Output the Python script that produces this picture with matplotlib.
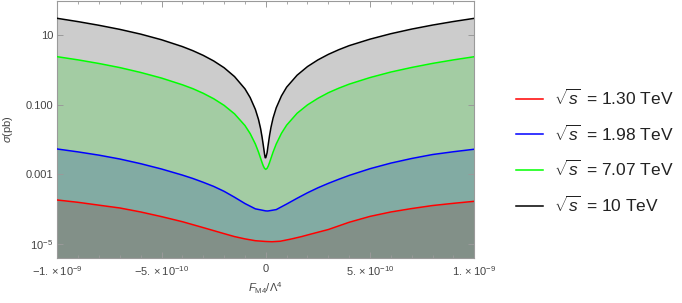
import matplotlib
matplotlib.use("Agg")
import matplotlib.pyplot as plt
from matplotlib.ticker import FixedLocator, MultipleLocator, NullLocator

plt.rcParams['font.family'] = ['Liberation Sans', 'DejaVu Sans']
plt.rcParams['mathtext.fontset'] = 'custom'
plt.rcParams['mathtext.rm'] = 'Liberation Sans'
plt.rcParams['mathtext.it'] = 'Liberation Sans:italic'
plt.rcParams['mathtext.bf'] = 'Liberation Sans:bold'

# ---- data (x = F_M4/Lambda^4, sigma in pb) ----
x_red = [-1.0e-9, -0.9e-9, -0.8e-9, -0.7e-9, -0.6e-9, -0.5e-9, -0.4e-9, -0.3e-9, -0.2e-9,
         -0.15e-9, -0.1e-9, -0.05e-9, 0.0, 0.03e-9, 0.07e-9, 0.12e-9, 0.17e-9, 0.22e-9,
         0.3e-9, 0.4e-9, 0.5e-9, 0.6e-9, 0.7e-9, 0.8e-9, 0.9e-9, 1.0e-9]
sigma_red = [1.83e-4, 1.57e-4, 1.30e-4, 1.08e-4, 8.3e-5, 6.1e-5, 4.36e-5, 2.95e-5, 1.98e-5,
             1.63e-5, 1.40e-5, 1.24e-5, 1.18e-5, 1.16e-5, 1.20e-5, 1.38e-5, 1.62e-5, 1.95e-5,
             2.6e-5, 4.2e-5, 6.2e-5, 8.3e-5, 1.04e-4, 1.27e-4, 1.47e-4, 1.68e-4]

x_blue = [-1.0e-9, -0.9e-9, -0.8e-9, -0.7e-9, -0.6e-9, -0.5e-9, -0.4e-9, -0.35e-9, -0.3e-9,
          -0.25e-9, -0.2e-9, -0.15e-9, -0.1e-9, -0.05e-9, 0.0, 0.01e-9, 0.05e-9, 0.1e-9,
          0.15e-9, 0.2e-9, 0.25e-9, 0.3e-9, 0.35e-9, 0.4e-9, 0.5e-9, 0.6e-9, 0.7e-9,
          0.8e-9, 0.9e-9, 1.0e-9]
sigma_blue = [5.33e-3, 4.40e-3, 3.55e-3, 2.75e-3, 2.02e-3, 1.42e-3, 9.5e-4, 7.6e-4, 5.9e-4,
              4.5e-4, 3.25e-4, 2.2e-4, 1.45e-4, 1.02e-4, 8.9e-5, 8.85e-5, 9.7e-5, 1.40e-4,
              2.05e-4, 2.95e-4, 4.1e-4, 5.5e-4, 7.2e-4, 9.3e-4, 1.45e-3, 2.1e-3, 2.85e-3,
              3.7e-3, 4.45e-3, 5.25e-3]

x_green = [-1.0e-9, -0.9e-9, -0.8e-9, -0.7e-9, -0.6e-9, -0.5e-9, -0.4e-9, -0.35e-9, -0.3e-9,
           -0.25e-9, -0.2e-9, -0.15e-9, -0.1e-9, -0.075e-9, -0.05e-9, -0.035e-9, -0.025e-9,
           -0.018e-9, -0.012e-9, -0.006e-9, 0.0, 0.006e-9, 0.012e-9, 0.018e-9, 0.025e-9,
           0.035e-9, 0.05e-9, 0.075e-9, 0.1e-9, 0.15e-9, 0.2e-9, 0.25e-9, 0.3e-9, 0.35e-9,
           0.4e-9, 0.5e-9, 0.6e-9, 0.7e-9, 0.8e-9, 0.9e-9, 1.0e-9]
sigma_green = [2.38, 1.93, 1.52, 1.16, 0.84, 0.58, 0.372, 0.288, 0.212,
               0.148, 0.0955, 0.0545, 0.0252, 0.0148, 0.00740, 0.00435, 0.00290,
               0.00218, 0.00174, 0.00148, 0.00139, 0.00148, 0.00174, 0.00218, 0.00290,
               0.00435, 0.00740, 0.0150, 0.0258, 0.0565, 0.0985, 0.152, 0.220, 0.297,
               0.388, 0.60, 0.865, 1.17, 1.53, 1.93, 2.38]

x_black = [-1.0e-9, -0.9e-9, -0.8e-9, -0.7e-9, -0.6e-9, -0.5e-9, -0.4e-9, -0.35e-9, -0.3e-9,
           -0.25e-9, -0.2e-9, -0.15e-9, -0.1e-9, -0.075e-9, -0.05e-9, -0.035e-9, -0.025e-9,
           -0.018e-9, -0.012e-9, -0.006e-9, -0.003e-9, 0.0, 0.006e-9, 0.012e-9, 0.018e-9,
           0.025e-9, 0.035e-9, 0.05e-9, 0.075e-9, 0.1e-9, 0.15e-9, 0.2e-9, 0.25e-9, 0.3e-9,
           0.35e-9, 0.4e-9, 0.5e-9, 0.6e-9, 0.7e-9, 0.8e-9, 0.9e-9, 1.0e-9]
sigma_black = [30.1, 24.2, 19.0, 14.5, 10.6, 7.3, 4.65, 3.55, 2.60,
               1.80, 1.15, 0.64, 0.285, 0.160, 0.0730, 0.0375, 0.0206,
               0.0118, 0.00680, 0.00380, 0.00300, 0.00300, 0.00410, 0.00740, 0.0130,
               0.0225, 0.0415, 0.0810, 0.178, 0.318, 0.70, 1.24, 1.93, 2.78,
               3.78, 4.95, 7.6, 10.9, 14.8, 19.3, 24.4, 30.1]

labels = [r"$\sqrt{s}\,$ = 1.30 TeV", r"$\sqrt{s}\,$ = 1.98 TeV",
          r"$\sqrt{s}\,$ = 7.07 TeV", r"$\sqrt{s}\,$ = 10 TeV"]
colors = ["#ff0000", "#0000ff", "#00ff00", "#000000"]

y_ticks = [1e-5, 1e-3, 1e-1, 10]
y_ticklabels = [r"$10^{-5}$", "0.001", "0.100", "10"]
x_ticks = [-1e-9, -5e-10, 0, 5e-10, 1e-9]
x_ticklabels = [r"$-1.\times10^{-9}$", r"$-5.\times10^{-10}$", "0",
                r"$5.\times10^{-10}$", r"$1.\times10^{-9}$"]

# ---- figure ----
W, H = 682, 303
fig = plt.figure(figsize=(W / 100, H / 100), dpi=100)
ax = fig.add_axes([57.3 / W, 1 - 258.3 / H, (474.3 - 57.3) / W, (258.3 - 0.7) / H])
ax.set_yscale('log')
ymin, ymax = 3.88e-6, 96.6
ax.set_xlim(-1e-9, 1e-9)
ax.set_ylim(ymin, ymax)

series = [(x_red, sigma_red), (x_blue, sigma_blue), (x_green, sigma_green), (x_black, sigma_black)]
handles = []
for (xs, ys), c in zip(series, colors):
    ax.fill_between(xs, ymin, ys, color=c, alpha=0.2, linewidth=0, zorder=1)
for (xs, ys), c, lab in zip(series, colors, labels):
    h, = ax.plot(xs, ys, color=c, lw=1.1, zorder=3, label=lab,
                 solid_joinstyle='round')
    handles.append(h)

frame_col = '#9a9a9a'
for s in ax.spines.values():
    s.set_color(frame_col)
    s.set_linewidth(0.8)

ax.xaxis.set_major_locator(FixedLocator(x_ticks))
ax.set_xticklabels(x_ticklabels)
ax.xaxis.set_minor_locator(MultipleLocator(1e-10))
ax.yaxis.set_major_locator(FixedLocator(y_ticks))
ax.set_yticklabels(y_ticklabels)
ax.yaxis.set_minor_locator(NullLocator())
ax.tick_params(which='both', direction='in', top=True, right=True, color=frame_col,
               labelcolor='#444444', labelsize=8)
ax.tick_params(which='major', length=4, width=0.7)
ax.tick_params(which='minor', length=2.5, width=0.6)
ax.tick_params(axis='x', pad=4)
ax.tick_params(axis='y', pad=3)

ax.set_xlabel(r"$F_{\mathrm{M4}}/\Lambda^4$", fontsize=8, color='#444444', labelpad=2)
ax.set_ylabel(r"$\sigma$(pb)", fontsize=8, color='#444444', labelpad=7.5)

leg = fig.legend(handles=handles, labels=labels, loc='center left',
                 bbox_to_anchor=(516.0 / W, 1 - 151.3 / H), frameon=False,
                 fontsize=12.5, handlelength=1.57, handletextpad=0.63,
                 labelspacing=0.9, borderpad=0, borderaxespad=0)
for t in leg.get_texts():
    t.set_color('#222222')

fig.savefig('out.png', dpi=100)
